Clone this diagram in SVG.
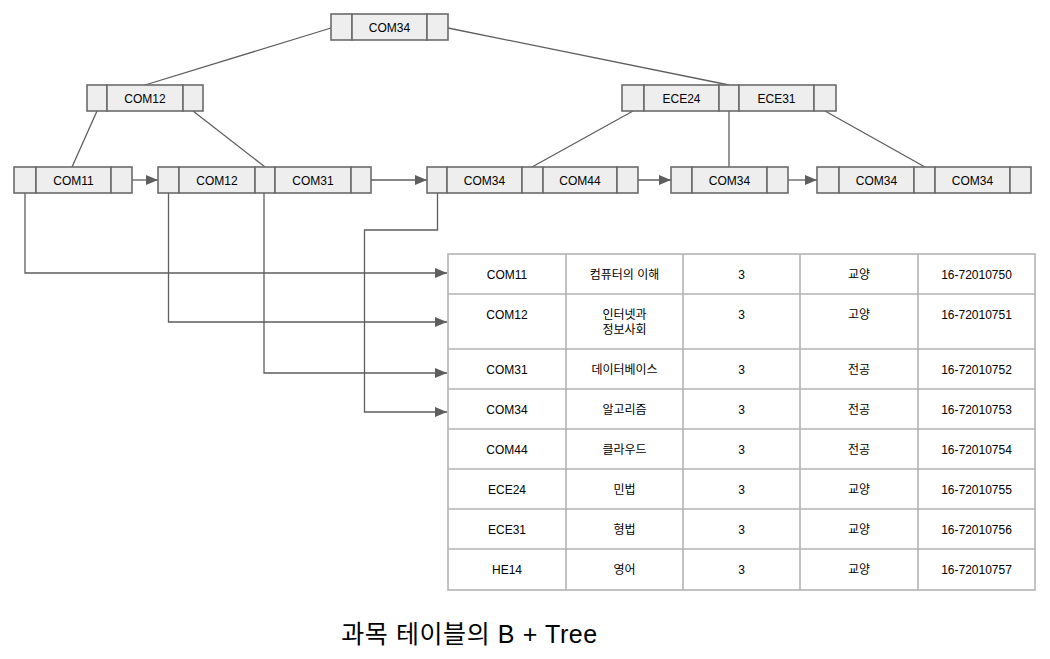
<svg xmlns="http://www.w3.org/2000/svg" width="1050" height="659" viewBox="0 0 1050 659">
<style>
.c{fill:#eeeeee;stroke:#6b6b6b;stroke-width:1.6}
.t{font-family:"Liberation Sans",Arial,sans-serif;font-size:12px;fill:#000;text-anchor:middle;dominant-baseline:central}
.k{font-family:"Liberation Sans","Noto Sans CJK KR",sans-serif;font-size:12px;fill:#000;text-anchor:middle;dominant-baseline:central}
.ln{fill:none;stroke:#5e5e5e;stroke-width:1.3}
.ar{fill:none;stroke:#5e5e5e;stroke-width:1.3;marker-end:url(#ah)}
.tb{fill:#ffffff;stroke:#b3b3b3;stroke-width:1.6}
</style>
<defs>
<marker id="ah" viewBox="0 0 12 10" refX="12" refY="5" markerWidth="12" markerHeight="10" markerUnits="userSpaceOnUse" orient="auto">
<path d="M0,0 L12,5 L0,10 Z" fill="#5e5e5e"/>
</marker>
</defs>
<rect width="1050" height="659" fill="#ffffff"/>

<g id="connectors">
<line class="ln" x1="145" y1="85" x2="331" y2="28"/>
<line class="ln" x1="448" y1="28" x2="729" y2="85"/>
<line class="ln" x1="97" y1="111" x2="72" y2="167"/>
<line class="ln" x1="193" y1="111" x2="265" y2="167"/>
<line class="ln" x1="633" y1="111" x2="532" y2="167"/>
<line class="ln" x1="729" y1="111" x2="729" y2="167"/>
<line class="ln" x1="825" y1="111" x2="925" y2="167"/>
<line class="ar" x1="132" y1="180" x2="158" y2="180"/>
<line class="ar" x1="371" y1="180" x2="427" y2="180"/>
<line class="ar" x1="638" y1="180" x2="671" y2="180"/>
<line class="ar" x1="788" y1="180" x2="817" y2="180"/>
<polyline class="ar" points="25,192 25,273 447,273"/>
<polyline class="ar" points="168.5,192 168.5,322 447,322"/>
<polyline class="ar" points="264,192 264,373 447,373"/>
<polyline class="ar" points="437.5,192 437.5,230 364.5,230 364.5,412 447,412"/>
</g>

<g id="root">
<rect class="c" x="331" y="14" width="21" height="26"/>
<rect class="c" x="352" y="14" width="75" height="26"/>
<rect class="c" x="427" y="14" width="21" height="26"/>
<text class="t" x="389.5" y="27.5">COM34</text>
</g>

<g id="inner-com12">
<rect class="c" x="87" y="85" width="20" height="26"/>
<rect class="c" x="107" y="85" width="76" height="26"/>
<rect class="c" x="183" y="85" width="20" height="26"/>
<text class="t" x="145" y="98.5">COM12</text>
</g>

<g id="inner-ece">
<rect class="c" x="622" y="85" width="22" height="26"/>
<rect class="c" x="644" y="85" width="75" height="26"/>
<rect class="c" x="719" y="85" width="20" height="26"/>
<rect class="c" x="739" y="85" width="75" height="26"/>
<rect class="c" x="814" y="85" width="22" height="26"/>
<text class="t" x="681.5" y="98.5">ECE24</text>
<text class="t" x="776.5" y="98.5">ECE31</text>
</g>

<g id="leaf-com11">
<rect class="c" x="14" y="167" width="22" height="26"/>
<rect class="c" x="36" y="167" width="75" height="26"/>
<rect class="c" x="111" y="167" width="21" height="26"/>
<text class="t" x="73.5" y="180.5">COM11</text>
</g>

<g id="leaf-com12-com31">
<rect class="c" x="158" y="167" width="21" height="26"/>
<rect class="c" x="179" y="167" width="76" height="26"/>
<rect class="c" x="255" y="167" width="20" height="26"/>
<rect class="c" x="275" y="167" width="76" height="26"/>
<rect class="c" x="351" y="167" width="20" height="26"/>
<text class="t" x="217" y="180.5">COM12</text>
<text class="t" x="313" y="180.5">COM31</text>
</g>

<g id="leaf-com34-com44">
<rect class="c" x="427" y="167" width="20" height="26"/>
<rect class="c" x="447" y="167" width="75" height="26"/>
<rect class="c" x="522" y="167" width="21" height="26"/>
<rect class="c" x="543" y="167" width="74" height="26"/>
<rect class="c" x="617" y="167" width="21" height="26"/>
<text class="t" x="484.5" y="180.5">COM34</text>
<text class="t" x="580" y="180.5">COM44</text>
</g>

<g id="leaf-com34">
<rect class="c" x="671" y="167" width="21" height="26"/>
<rect class="c" x="692" y="167" width="75" height="26"/>
<rect class="c" x="767" y="167" width="21" height="26"/>
<text class="t" x="729.5" y="180.5">COM34</text>
</g>

<g id="leaf-com34-com34">
<rect class="c" x="817" y="167" width="22" height="26"/>
<rect class="c" x="839" y="167" width="75" height="26"/>
<rect class="c" x="914" y="167" width="21" height="26"/>
<rect class="c" x="935" y="167" width="75" height="26"/>
<rect class="c" x="1010" y="167" width="21" height="26"/>
<text class="t" x="876.5" y="180.5">COM34</text>
<text class="t" x="972.5" y="180.5">COM34</text>
</g>

<g id="table">
<rect class="tb" x="448" y="254" width="587" height="336"/>
<g stroke="#b3b3b3" stroke-width="1.6">
<line x1="566" y1="254" x2="566" y2="590"/>
<line x1="683" y1="254" x2="683" y2="590"/>
<line x1="800" y1="254" x2="800" y2="590"/>
<line x1="918" y1="254" x2="918" y2="590"/>
<line x1="448" y1="294" x2="1035" y2="294"/>
<line x1="448" y1="349" x2="1035" y2="349"/>
<line x1="448" y1="389" x2="1035" y2="389"/>
<line x1="448" y1="429" x2="1035" y2="429"/>
<line x1="448" y1="469" x2="1035" y2="469"/>
<line x1="448" y1="509" x2="1035" y2="509"/>
<line x1="448" y1="549" x2="1035" y2="549"/>
</g>
<text class="t" x="507" y="274.5">COM11</text>
<text class="k" x="624.5" y="274.5">컴퓨터의 이해</text>
<text class="t" x="741.5" y="274.5">3</text>
<text class="k" x="859" y="274.5">교양</text>
<text class="t" x="976.5" y="274.5">16-72010750</text>

<text class="t" x="507" y="314.5">COM12</text>
<text class="k" x="624.5" y="314.5">인터넷과</text>
<text class="k" x="624.5" y="329.5">정보사회</text>
<text class="t" x="741.5" y="314.5">3</text>
<text class="k" x="859" y="314.5">고양</text>
<text class="t" x="976.5" y="314.5">16-72010751</text>

<text class="t" x="507" y="369.5">COM31</text>
<text class="k" x="624.5" y="369.5">데이터베이스</text>
<text class="t" x="741.5" y="369.5">3</text>
<text class="k" x="859" y="369.5">전공</text>
<text class="t" x="976.5" y="369.5">16-72010752</text>

<text class="t" x="507" y="409.5">COM34</text>
<text class="k" x="624.5" y="409.5">알고리즘</text>
<text class="t" x="741.5" y="409.5">3</text>
<text class="k" x="859" y="409.5">전공</text>
<text class="t" x="976.5" y="409.5">16-72010753</text>

<text class="t" x="507" y="449.5">COM44</text>
<text class="k" x="624.5" y="449.5">클라우드</text>
<text class="t" x="741.5" y="449.5">3</text>
<text class="k" x="859" y="449.5">전공</text>
<text class="t" x="976.5" y="449.5">16-72010754</text>

<text class="t" x="507" y="489.5">ECE24</text>
<text class="k" x="624.5" y="489.5">민법</text>
<text class="t" x="741.5" y="489.5">3</text>
<text class="k" x="859" y="489.5">교양</text>
<text class="t" x="976.5" y="489.5">16-72010755</text>

<text class="t" x="507" y="529.5">ECE31</text>
<text class="k" x="624.5" y="529.5">형법</text>
<text class="t" x="741.5" y="529.5">3</text>
<text class="k" x="859" y="529.5">교양</text>
<text class="t" x="976.5" y="529.5">16-72010756</text>

<text class="t" x="507" y="569.5">HE14</text>
<text class="k" x="624.5" y="569.5">영어</text>
<text class="t" x="741.5" y="569.5">3</text>
<text class="k" x="859" y="569.5">교양</text>
<text class="t" x="976.5" y="569.5">16-72010757</text>
</g>

<text id="caption" x="469.5" y="643" font-family="'Liberation Sans','Noto Sans CJK KR',sans-serif" font-size="25" letter-spacing="0.6" fill="#000" text-anchor="middle">과목 테이블의 B + Tree</text>
</svg>
